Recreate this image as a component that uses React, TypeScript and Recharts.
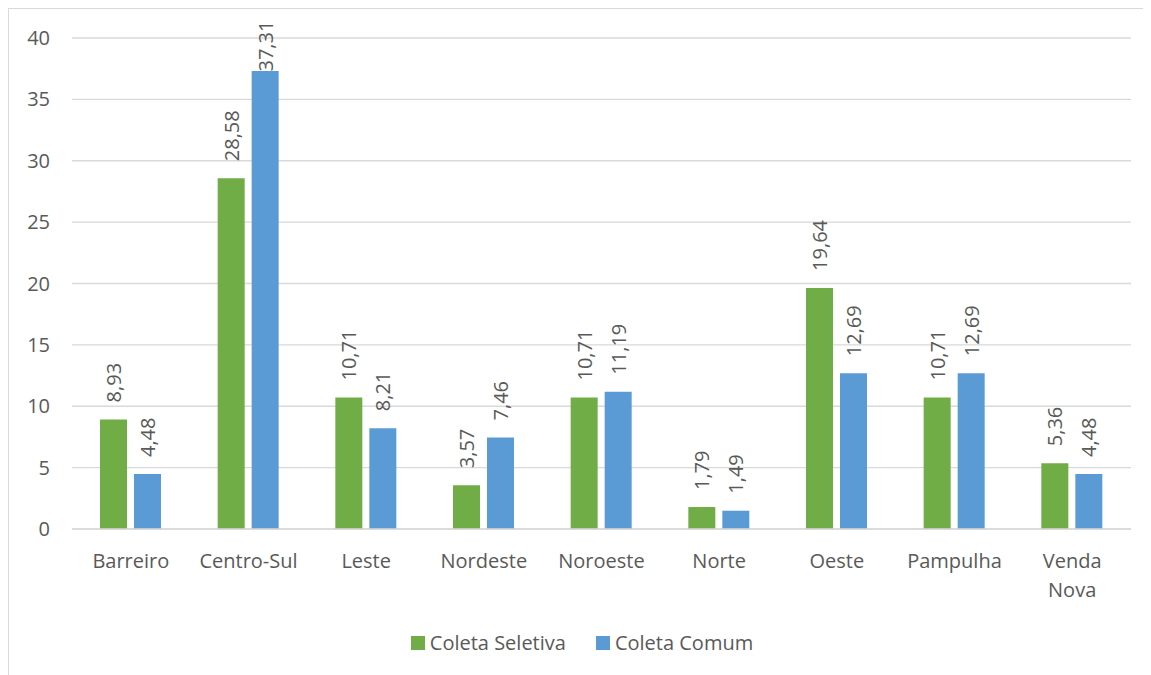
import { BarChart, Bar, XAxis, YAxis, CartesianGrid, Legend, LabelList } from "recharts";

const regions = ["Barreiro", "Centro-Sul", "Leste", "Nordeste", "Noroeste", "Norte", "Oeste", "Pampulha", "Venda Nova"];
const seletiva = [8.93, 28.58, 10.71, 3.57, 10.71, 1.79, 19.64, 10.71, 5.36];
const comum = [4.48, 37.31, 8.21, 7.46, 11.19, 1.49, 12.69, 12.69, 4.48];
const yTicks = [0, 5, 10, 15, 20, 25, 30, 35, 40];
const seriesNames = ["Coleta Seletiva", "Coleta Comum"];
const seriesColors = ["#70AD47", "#5B9BD5"];

const data = regions.map((name, i) => ({ name, seletiva: seletiva[i], comum: comum[i] }));

const FONT = "'Open Sans', sans-serif";
const TEXT = "#595959";
const GRID = "#D9D9D9";

const fmt = (v: number) => v.toFixed(2).replace(".", ",");

function ValueLabel(props: any) {
  const { x, y, width, value } = props;
  const s = fmt(Number(value));
  const len = s.length * 10.3;
  const cx = Number(x) + Number(width) / 2;
  const start = Math.max(Number(y) - 17, 11 + len);
  return (
    <text
      x={cx}
      y={start}
      transform={`rotate(-90, ${cx}, ${start})`}
      textAnchor="start"
      dominantBaseline="central"
      fill={TEXT}
      fontSize={20}
      fontFamily={FONT}
    >
      {s}
    </text>
  );
}

function CatTick(props: any) {
  const { x, y, payload } = props;
  const lines = String(payload.value).split(" ");
  return (
    <g>
      {lines.map((l, i) => (
        <text key={i} x={x} y={y + 39 + i * 29} textAnchor="middle" fill={TEXT} fontSize={20} fontFamily={FONT}>
          {l}
        </text>
      ))}
    </g>
  );
}

function LegendBox() {
  return (
    <div style={{ display: "flex", justifyContent: "center", alignItems: "center", gap: 30, fontFamily: FONT, fontSize: 20, color: TEXT }}>
      {seriesNames.map((n, i) => (
        <div key={n} style={{ display: "flex", alignItems: "center", gap: 5 }}>
          <span style={{ display: "inline-block", width: 14, height: 14, background: seriesColors[i] }} />
          <span>{n}</span>
        </div>
      ))}
    </div>
  );
}

export default function App() {
  return (
    <div style={{ width: 1143, height: 667, borderLeft: `1px solid ${GRID}`, borderTop: `1px solid ${GRID}`, boxSizing: "border-box", background: "#fff" }}>
      <BarChart
        width={1142}
        height={666}
        data={data}
        margin={{ top: 29, right: 20, left: 0, bottom: 86 }}
        barCategoryGap="24%"
        barGap={7}
      >
        <CartesianGrid vertical={false} stroke={GRID} strokeWidth={1.3} />
        <XAxis
          dataKey="name"
          axisLine={{ stroke: GRID, strokeWidth: 1.3 }}
          tickLine={false}
          tickSize={0}
          tickMargin={0}
          height={60}
          interval={0}
          tick={<CatTick />}
        />
        <YAxis
          domain={[0, 40]}
          ticks={yTicks}
          width={63}
          axisLine={false}
          tickLine={false}
          tickSize={0}
          tickMargin={22}
          tick={{ fill: TEXT, fontSize: 20, fontFamily: FONT }}
        />
        <Legend
          layout="horizontal"
          verticalAlign="middle"
          align="center"
          wrapperStyle={{ top: 620, left: 0, width: 1146 }}
          content={<LegendBox />}
        />
        <Bar dataKey="seletiva" name={seriesNames[0]} fill={seriesColors[0]} barSize={27} isAnimationActive={false}>
          <LabelList dataKey="seletiva" content={<ValueLabel />} />
        </Bar>
        <Bar dataKey="comum" name={seriesNames[1]} fill={seriesColors[1]} barSize={27} isAnimationActive={false}>
          <LabelList dataKey="comum" content={<ValueLabel />} />
        </Bar>
      </BarChart>
    </div>
  );
}
